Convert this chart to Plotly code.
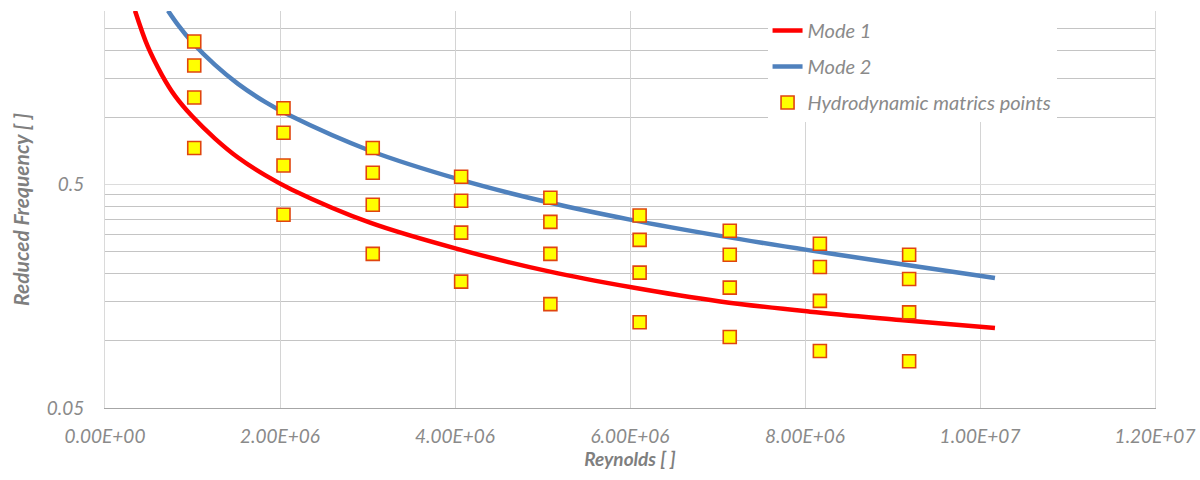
import plotly.graph_objects as go

# Mode curves: reduced frequency vs Reynolds number
mode1_re = [0.343e6, 0.491e6, 0.651e6, 0.800e6, 0.994e6, 1.257e6, 1.520e6, 1.829e6,
            2.137e6, 3.029e6, 4.057e6, 5.086e6, 6.000e6, 7.029e6, 8.057e6, 9.086e6, 10.171e6]
mode1_freq = [3.01, 2.07, 1.55, 1.25, 1.015, 0.805, 0.662, 0.552,
              0.475, 0.338, 0.256, 0.204, 0.174, 0.150, 0.135, 0.124, 0.114]

mode2_re = [0.720e6, 0.834e6, 0.994e6, 1.257e6, 1.520e6, 1.829e6, 2.114e6, 3.029e6,
            4.057e6, 5.086e6, 6.000e6, 7.029e6, 8.057e6, 9.086e6, 10.171e6]
mode2_freq = [3.01, 2.60, 2.18, 1.72, 1.415, 1.175, 1.02, 0.71,
              0.527, 0.415, 0.349, 0.295, 0.254, 0.221, 0.191]

# Hydrodynamic matrix sampling points (4 frequencies per Reynolds number)
point_re = [1.02e6] * 4 + [2.04e6] * 4 + [3.06e6] * 4 + [4.07e6] * 4 + [5.09e6] * 4 + \
           [6.11e6] * 4 + [7.14e6] * 4 + [8.17e6] * 4 + [9.19e6] * 4
point_freq = [2.19, 1.71, 1.23, 0.73,
              1.10, 0.855, 0.61, 0.367,
              0.73, 0.566, 0.407, 0.245,
              0.543, 0.424, 0.305, 0.184,
              0.437, 0.341, 0.245, 0.146,
              0.364, 0.283, 0.202, 0.121,
              0.311, 0.243, 0.173, 0.104,
              0.272, 0.214, 0.151, 0.090,
              0.243, 0.189, 0.134, 0.081]

x_ticks = [0, 2e6, 4e6, 6e6, 8e6, 10e6, 12e6]
x_tick_text = ["0.00E+00", "2.00E+06", "4.00E+06", "6.00E+06", "8.00E+06", "1.00E+07", "1.20E+07"]
y_major = [0.05, 0.5]
y_major_text = ["0.05", "0.5"]
y_minor = [0.1, 0.15, 0.2, 0.25, 0.3, 0.35, 0.4, 0.45, 1.0, 1.5, 2.0, 2.5, 3.0]

FONT = "Lato, 'Open Sans', sans-serif"
GREY = "#8a8a8a"
TICK_FONT = dict(family=FONT, size=19, color=GREY, style="italic")

fig = go.Figure()
fig.add_trace(go.Scatter(
    x=mode1_re, y=mode1_freq, mode="lines", name="Mode 1",
    line=dict(color="#ff0000", width=4.5, shape="spline", smoothing=1.0),
    legendgroup="m1",
))
fig.add_trace(go.Scatter(
    x=mode2_re, y=mode2_freq, mode="lines", name="Mode 2",
    line=dict(color="#4f81bd", width=4.5, shape="spline", smoothing=1.0),
    legendgroup="m2",
))
fig.add_trace(go.Scatter(
    x=point_re, y=point_freq, mode="markers", name="Hydrodynamic matrics points",
    marker=dict(symbol="square", size=13, color="#ffff00",
                line=dict(color="#e0450f", width=1.6)),
    legendgroup="pts",
))

fig.update_layout(
    width=1200, height=480,
    margin=dict(l=105, r=45, t=11, b=72),
    paper_bgcolor="white", plot_bgcolor="white",
    font=dict(family=FONT, color=GREY, size=19),
    showlegend=True,
    legend=dict(
        x=0.631, y=1.0, xanchor="left", yanchor="top",
        bgcolor="white", borderwidth=0,
        font=dict(family=FONT, size=20, color=GREY, style="italic"),
        tracegroupgap=7, traceorder="grouped",
    ),
    xaxis=dict(
        range=[0, 1.2e7], automargin=False,
        tickvals=x_ticks, ticktext=x_tick_text,
        tickfont=TICK_FONT,
        ticks="", ticklabelstandoff=11,
        showgrid=True, gridcolor="#d4d4d4", gridwidth=1,
        showline=True, linecolor="#a6a6a6", linewidth=1.2,
        zeroline=False,
        title=dict(text="Reynolds [ ]", standoff=6,
                   font=dict(family=FONT, size=19, color="#7f7f7f",
                             weight="bold", style="italic")),
    ),
    yaxis=dict(
        type="log", automargin=False,
        range=[-1.30103, 0.4771213],
        tickvals=y_major, ticktext=y_major_text,
        tickfont=TICK_FONT,
        ticks="", ticklabelstandoff=16,
        showgrid=True, gridcolor="#dcdcdc", gridwidth=1,
        minor=dict(tickvals=y_minor, showgrid=True, gridcolor="#c4c4c4",
                   gridwidth=1, ticks=""),
        showline=True, linecolor="#dadada", linewidth=1, mirror=True,
        zeroline=False,
        title=dict(text="Reduced Frequency [ ]", standoff=11,
                   font=dict(family=FONT, size=21, color="#7f7f7f",
                             weight="bold", style="italic")),
    ),
)

fig.write_html("out.html")
